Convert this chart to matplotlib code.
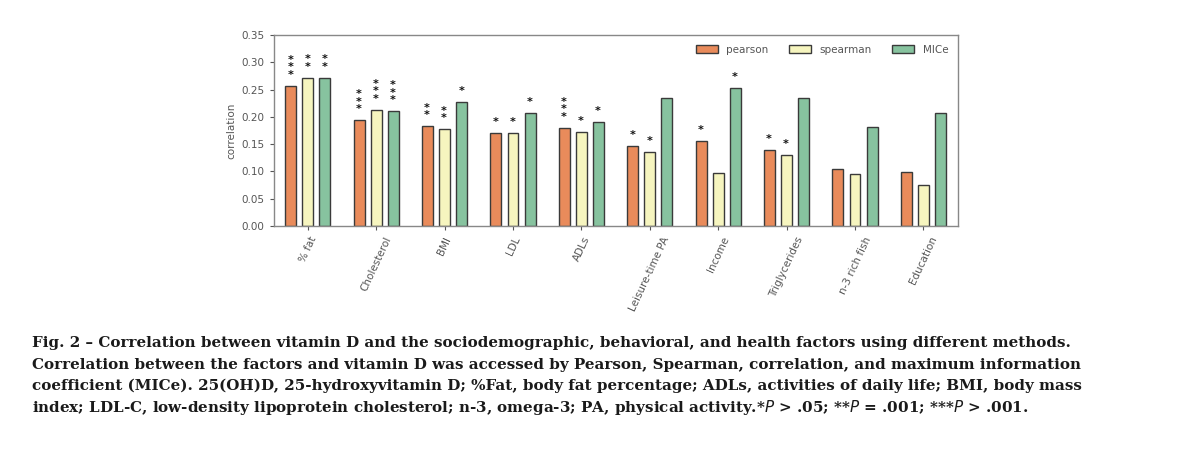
import numpy as np
import matplotlib.pyplot as plt

factors = ['% fat', 'Cholesterol', 'BMI', 'LDL', 'ADLs', 'Leisure-time PA',
           'Income', 'Triglycerides', 'n-3 rich fish', 'Education']
pearson = [0.257, 0.194, 0.183, 0.171, 0.180, 0.146, 0.155, 0.139, 0.104, 0.099]
spearman = [0.272, 0.213, 0.177, 0.171, 0.173, 0.135, 0.097, 0.131, 0.095, 0.075]
mice = [0.272, 0.211, 0.227, 0.207, 0.191, 0.234, 0.253, 0.234, 0.182, 0.208]
stars_pearson = ['***', '***', '**', '*', '***', '*', '*', '*', '', '']
stars_spearman = ['**', '***', '**', '*', '*', '*', '', '*', '', '']
stars_mice = ['**', '***', '*', '*', '*', '', '*', '', '', '']

caption = [
    'Fig. 2 \u2013 Correlation between vitamin D and the sociodemographic, behavioral, and health factors using different methods.',
    'Correlation between the factors and vitamin D was accessed by Pearson, Spearman, correlation, and maximum information',
    'coefficient (MICe). 25(OH)D, 25-hydroxyvitamin D; %Fat, body fat percentage; ADLs, activities of daily life; BMI, body mass',
    'index; LDL-C, low-density lipoprotein cholesterol; n-3, omega-3; PA, physical activity.*$\\mathit{P}$ > .05; **$\\mathit{P}$ = .001; ***$\\mathit{P}$ > .001.',
]

colors = ['#E98B5B', '#F6F5BF', '#87C39F']
edge = '#3a3a3a'
grey = '#555555'
small = 7.5

fig = plt.figure(figsize=(12, 4.63), dpi=100)
ax = fig.add_axes([0.228, 0.512, 0.570, 0.412])

x = np.arange(len(factors))
width = 0.16
offset = 0.25
series = [(pearson, stars_pearson, 'pearson'),
          (spearman, stars_spearman, 'spearman'),
          (mice, stars_mice, 'MICe')]
for i, (vals, stars, name) in enumerate(series):
    pos = x + (i - 1) * offset
    ax.bar(pos, vals, width, color=colors[i], edgecolor=edge, linewidth=1.0, label=name)
    # significance stars stacked above each bar
    for p, v, s in zip(pos, vals, stars):
        if s:
            ax.annotate('\n'.join(s), (p, v), xytext=(-0.5, 6),
                        textcoords='offset pixels', ha='center', va='bottom',
                        linespacing=0.68, fontsize=8, fontweight='bold',
                        color='#111111')

ax.set_xlim(-0.5, len(factors) - 0.5)
ax.set_ylim(0, 0.35)
ax.set_yticks(np.arange(0, 0.351, 0.05))
ax.set_yticklabels([f'{t:.2f}' for t in np.arange(0, 0.351, 0.05)])
ax.set_xticks(x)
ax.set_xticklabels(factors, rotation=65)
ax.tick_params(axis='both', labelsize=small, colors=grey, length=3, width=0.8)
ax.set_ylabel('correlation', fontsize=small, color=grey)
for sp in ax.spines.values():
    sp.set_color('#888888')
    sp.set_linewidth(1.0)

ax.legend(loc='upper right', ncol=3, frameon=False, fontsize=small,
          handlelength=2.1, handleheight=0.7, columnspacing=2.0,
          labelcolor=grey, bbox_to_anchor=(1.0, 1.0))

y0 = 343
for k, line in enumerate(caption):
    fig.text(32 / 1200, 1 - (y0 + k * 21.5) / 463, line, ha='left', va='center',
             fontsize=10.9, family='DejaVu Serif', fontweight='bold', color='#1a1a1a')

fig.savefig('out.png', dpi=100)
